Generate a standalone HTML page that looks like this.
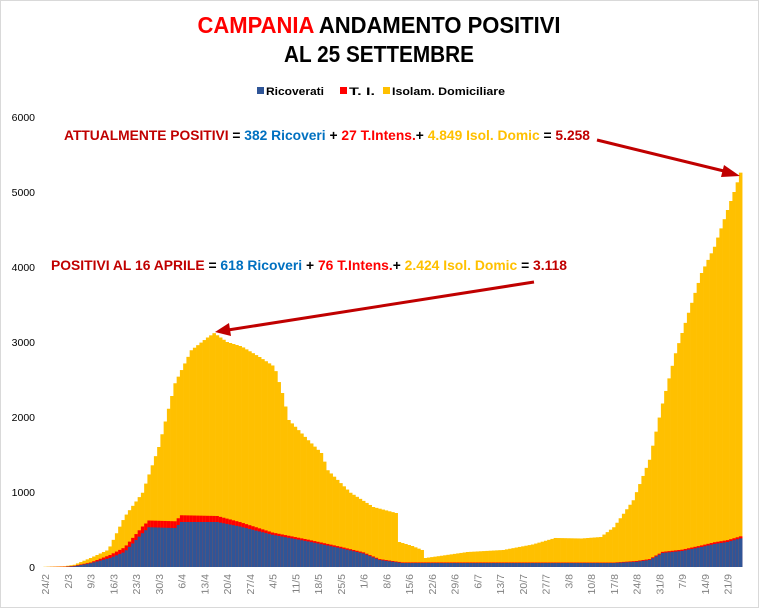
<!DOCTYPE html>
<html><head><meta charset="utf-8"><style>
html,body{margin:0;padding:0;background:#fff}
svg{display:block}
text{font-family:"Liberation Sans",sans-serif}
</style></head><body>
<svg id="s" width="759" height="608" viewBox="0 0 759 608" xmlns="http://www.w3.org/2000/svg">
<rect x="0.5" y="0.5" width="758" height="607" fill="#fff" stroke="#d9d9d9"/>
<text x="379" y="33" font-size="23" font-weight="bold" text-anchor="middle" textLength="363" lengthAdjust="spacingAndGlyphs"><tspan fill="#ff0000">CAMPANIA</tspan><tspan fill="#000"> ANDAMENTO POSITIVI</tspan></text>
<text x="379" y="62" font-size="23" font-weight="bold" text-anchor="middle" textLength="190" lengthAdjust="spacingAndGlyphs" fill="#000">AL 25 SETTEMBRE</text>
<rect x="257" y="87" width="7" height="7" fill="#2f5597"/>
<text x="266" y="95" font-size="11" font-weight="bold" textLength="58" lengthAdjust="spacingAndGlyphs">Ricoverati</text>
<rect x="340" y="87" width="7" height="7" fill="#ff0000"/>
<text x="349" y="95" font-size="11" font-weight="bold" textLength="26" lengthAdjust="spacingAndGlyphs">T. I.</text>
<rect x="383" y="87" width="7" height="7" fill="#ffc000"/>
<text x="392" y="95" font-size="11" font-weight="bold" textLength="113" lengthAdjust="spacingAndGlyphs">Isolam. Domiciliare</text>
<g id="yl" font-size="10.5" fill="#000" text-anchor="end"></g>
<g id="bars"></g>
<g id="xl" font-size="10.5" fill="#808080"></g>
<text x="64" y="140" font-size="13.5" font-weight="bold" textLength="526" lengthAdjust="spacingAndGlyphs"><tspan fill="#c00000">ATTUALMENTE POSITIVI</tspan><tspan fill="#000"> = </tspan><tspan fill="#0070c0">382 Ricoveri</tspan><tspan fill="#000"> + </tspan><tspan fill="#ff0000">27 T.Intens.</tspan><tspan fill="#000">+ </tspan><tspan fill="#ffc000">4.849  Isol. Domic</tspan><tspan fill="#000"> = </tspan><tspan fill="#c00000">5.258</tspan></text>
<text x="51" y="270" font-size="13.5" font-weight="bold" textLength="516" lengthAdjust="spacingAndGlyphs"><tspan fill="#c00000">POSITIVI AL 16 APRILE</tspan><tspan fill="#000"> = </tspan><tspan fill="#0070c0">618 Ricoveri</tspan><tspan fill="#000"> + </tspan><tspan fill="#ff0000">76 T.Intens.</tspan><tspan fill="#000">+ </tspan><tspan fill="#ffc000">2.424  Isol. Domic</tspan><tspan fill="#000"> = </tspan><tspan fill="#c00000">3.118</tspan></text>
<line x1="597" y1="140" x2="728" y2="172" stroke="#c00000" stroke-width="3"/>
<polygon points="740,176 724,165 721,177" fill="#c00000"/>
<line x1="534" y1="282" x2="228" y2="330" stroke="#c00000" stroke-width="3"/>
<polygon points="215,332 229,323 231,336" fill="#c00000"/>
</svg>
<script>
var ns="http://www.w3.org/2000/svg";
function el(p,t,a,txt){var e=document.createElementNS(ns,t);for(var k in a)e.setAttribute(k,a[k]);if(txt)e.textContent=txt;p.appendChild(e);return e;}
function interp(pts,d){for(var i=0;i<pts.length-1;i++){if(d>=pts[i][0]&&d<=pts[i+1][0]){var t=(d-pts[i][0])/(pts[i+1][0]-pts[i][0]);return pts[i][1]+t*(pts[i+1][1]-pts[i][1]);}}return pts[pts.length-1][1];}
var tot=[[0,3],[6,10],[9,30],[14,120],[19.5,230],[24.5,670],[30,990],[35,1600],[40,2450],[45,2890],[50,3060],[52,3118],[53,3090],[56,3000],[60.5,2940],[66,2800],[70.6,2670],[73,2320],[75,1960],[81,1690],[85,1520],[87,1290],[94,990],[101,800],[108,720],[109,333],[113,280],[116,227],[117,120],[122,150],[130,200],[141,227],[150,300],[157,387],[165,380],[171,400],[175,530],[181,890],[186,1430],[190,2180],[194,2850],[198,3390],[202,3920],[206,4270],[210,4760],[212,5000],[214,5258]];
var blu=[[0,0],[6,0],[9,10],[14,50],[20,120],[24.5,200],[30,450],[32,530],[40,520],[42,600],[53,600],[60,540],[70,430],[81,340],[91,250],[98,180],[103,93],[110,53],[175,53],[182,70],[186,93],[190,187],[196,213],[202,267],[206,307],[210,333],[214,382]];
var red=[[0,0],[14,10],[24,60],[30,90],[42,90],[53,80],[70,30],[90,20],[110,8],[175,6],[190,15],[214,27]];
var g=document.getElementById("bars");
var y0=567,sc=0.075,w=3.25,x0=43.4;
for(var d=0;d<=214;d++){
 var T=interp(tot,d),B=interp(blu,d),R=interp(red,d);
 if(B+R>T)T=B+R;
 var x=x0+d*w;
 el(g,"rect",{x:x.toFixed(2),y:(y0-T*sc).toFixed(2),width:w+0.3,height:(T*sc).toFixed(2),fill:"#ffc000"});
 el(g,"rect",{x:x.toFixed(2),y:(y0-(B+R)*sc).toFixed(2),width:w+0.3,height:((B+R)*sc).toFixed(2),fill:"#ff0000"});
 el(g,"rect",{x:x.toFixed(2),y:(y0-B*sc).toFixed(2),width:w+0.3,height:(B*sc).toFixed(2),fill:"#2f5597"});
}
var yl=document.getElementById("yl");
for(var v=0;v<=6000;v+=1000){el(yl,"text",{x:35,y:y0-v*sc+4},String(v));}
var labs="24/2 2/3 9/3 16/3 23/3 30/3 6/4 13/4 20/4 27/4 4/5 11/5 18/5 25/5 1/6 8/6 15/6 22/6 29/6 6/7 13/7 20/7 27/7 3/8 10/8 17/8 24/8 31/8 7/9 14/9 21/9".split(" ");
var xl=document.getElementById("xl");
labs.forEach(function(l,k){var cx=45+7*k*3.25+4;el(xl,"text",{x:0,y:0,"text-anchor":"end",transform:"translate("+cx.toFixed(1)+",574) rotate(-90)"},l);});
</script>
</body></html>
